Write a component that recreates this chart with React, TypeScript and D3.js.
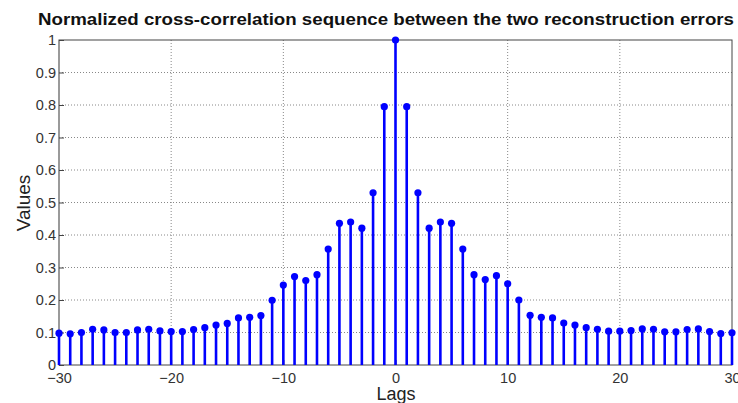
import React, { useEffect, useRef } from 'react';
import * as d3 from 'd3';

const lags = d3.range(-30, 31);
const values = [
  0.098, 0.096, 0.1, 0.11, 0.108, 0.1, 0.1, 0.108, 0.11, 0.105,
  0.103, 0.103, 0.109, 0.115, 0.123, 0.128, 0.145, 0.147, 0.152, 0.199,
  0.246, 0.272, 0.26, 0.278, 0.357, 0.436, 0.44, 0.421, 0.53, 0.795,
  1.0,
  0.795, 0.53, 0.421, 0.44, 0.436, 0.357, 0.278, 0.263, 0.275, 0.25,
  0.2, 0.153, 0.147, 0.145, 0.129, 0.123, 0.115, 0.11, 0.104, 0.104,
  0.106, 0.111, 0.11, 0.102, 0.102, 0.109, 0.111, 0.103, 0.097, 0.099,
];
const xTicks = [-30, -20, -10, 0, 10, 20, 30];
const yTicks = d3.range(0, 11).map((i) => i / 10);

const Chart = () => {
  const ref = useRef<SVGSVGElement | null>(null);

  useEffect(() => {
    if (!ref.current) return;
    const svg = d3.select(ref.current);
    svg.selectAll('*').remove();

    const left = 59, right = 732, top = 40, bottom = 365;
    const x = d3.scaleLinear().domain([-30, 30]).range([left, right]);
    const y = d3.scaleLinear().domain([0, 1]).range([bottom, top]);
    const font = '"Liberation Sans", Arial, sans-serif';

    svg.append('rect').attr('width', 738).attr('height', 403).attr('fill', '#fff');

    // grid
    const grid = svg.append('g').attr('stroke', '#888').attr('stroke-width', 1).attr('stroke-dasharray', '1,2');
    grid.selectAll('line.gx').data(xTicks.slice(1, -1)).enter().append('line')
      .attr('x1', (d) => x(d)).attr('x2', (d) => x(d)).attr('y1', top).attr('y2', bottom);
    grid.selectAll('line.gy').data(yTicks.slice(1, -1)).enter().append('line')
      .attr('x1', left).attr('x2', right).attr('y1', (d) => y(d)).attr('y2', (d) => y(d));

    // box
    svg.append('rect').attr('x', left).attr('y', top).attr('width', right - left).attr('height', bottom - top)
      .attr('fill', 'none').attr('stroke', '#444').attr('stroke-width', 1);
    svg.append('line').attr('x1', left).attr('x2', left).attr('y1', top).attr('y2', bottom)
      .attr('stroke', '#999').attr('stroke-width', 1.5);

    // ticks
    const xAxis = d3.axisBottom(x).tickValues(xTicks).tickSize(-5).tickPadding(8).tickFormat((d) => String(d).replace('-', '\u2212'));
    const gx = svg.append('g').attr('transform', `translate(0,${bottom})`).call(xAxis);
    const yAxis = d3.axisLeft(y).tickValues(yTicks).tickSize(-5).tickPadding(3).tickFormat((d) => String(d));
    const gy = svg.append('g').attr('transform', `translate(${left},0)`).call(yAxis);
    [gx, gy].forEach((g) => {
      g.select('.domain').remove();
      g.selectAll('line').attr('stroke', '#444');
      g.selectAll('text').attr('fill', '#333').attr('font-size', 14.5).attr('font-family', font);
    });

    // stems
    const stems = svg.append('g');
    stems.selectAll('line').data(values).enter().append('line')
      .attr('x1', (d, i) => x(lags[i])).attr('x2', (d, i) => x(lags[i]))
      .attr('y1', y(0)).attr('y2', (d) => y(d))
      .attr('stroke', '#0000ff').attr('stroke-width', 2.6);
    stems.selectAll('circle').data(values).enter().append('circle')
      .attr('cx', (d, i) => x(lags[i])).attr('cy', (d) => y(d)).attr('r', 3.6)
      .attr('fill', '#0000ff');

    // labels
    svg.append('text').attr('x', 386).attr('y', 25).attr('text-anchor', 'middle')
      .attr('font-family', font).attr('font-weight', 'bold').attr('font-size', 17).attr('fill', '#111')
      .attr('textLength', 696).attr('lengthAdjust', 'spacingAndGlyphs')
      .text('Normalized cross-correlation sequence between the two reconstruction errors');
    svg.append('text').attr('x', 396).attr('y', 400).attr('text-anchor', 'middle')
      .attr('font-family', font).attr('font-size', 18).attr('fill', '#222').text('Lags');
    svg.append('text').attr('transform', 'translate(30,203) rotate(-90)').attr('text-anchor', 'middle')
      .attr('font-family', font).attr('font-size', 19).attr('fill', '#222').text('Values');
  }, []);

  return <svg ref={ref} width={738} height={403} style={{ display: 'block' }} />;
};

export default function App() {
  return (
    <div style={{ position: 'absolute', left: 0, top: 0 }}>
      <Chart />
    </div>
  );
}
